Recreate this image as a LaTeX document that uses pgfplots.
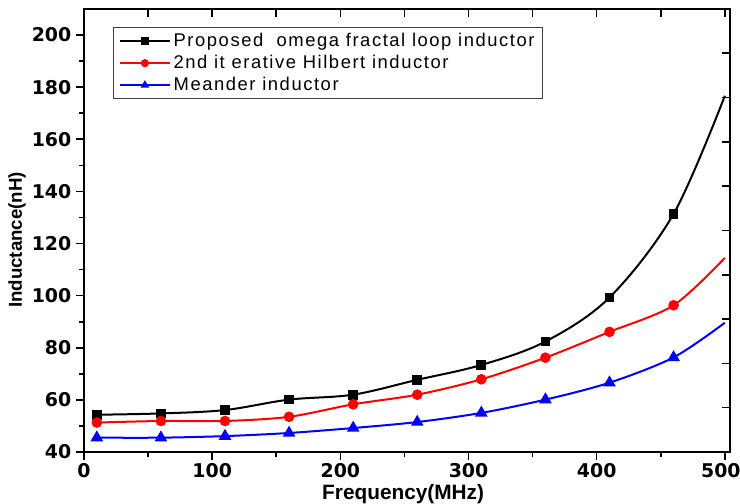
\documentclass[border=0pt]{standalone}
\usepackage{fontspec}
\setmainfont{Liberation Sans}
\newfontfamily\legfont[LetterSpace=8.5]{Liberation Sans}
\newfontfamily\tickfont{DejaVu Sans}
\usepackage{pgfplots}
\pgfplotsset{compat=1.18}
\begin{document}
\begin{tikzpicture}
\begin{axis}[
  width=484.5pt, height=332.25pt, scale only axis,
  xmin=0, xmax=504, ymin=40, ymax=210,
  axis line style={line width=1.5pt},
  xtick={0,100,...,500}, minor xtick={50,150,...,450},
  xticklabels={0,100,200,300,400,{\hspace*{-6pt}500}},
  ytick={40,60,...,200}, minor ytick={50,70,...,190},
  xtick pos=left, ytick pos=left,
  tick align=outside,
  major tick length=6pt, minor tick length=4pt,
  every tick/.style={black, line width=1.2pt},
  /pgf/number format/assume math mode=true,
  ticklabel style={font=\tickfont\fontsize{14.2}{17}\selectfont\bfseries},
  xticklabel style={yshift=1pt},
  xlabel={Frequency(MHz)},
  ylabel={Inductance(nH)},
  xlabel style={font=\fontsize{15.6}{18}\selectfont\bfseries, at={(axis description cs:0.494,-0.0955)}, anchor=center},
  ylabel style={font=\fontsize{14}{16}\selectfont\bfseries, at={(axis description cs:-0.1037,0.4786)}, anchor=center},
  legend style={at={(axis description cs:0.0449,0.9594)}, anchor=north west,
    draw=black!75, line width=0.8pt, font=\legfont\fontsize{13.8}{16.9}\selectfont,
    inner xsep=4pt, inner ysep=2.5pt, row sep=1pt},
  legend cell align=left,
  legend image code/.code={\draw[mark=none] (0cm,0cm) -- (1.32cm,0cm); \draw[mark size=2.3pt] plot coordinates {(0.66cm,0cm)};},
]
\coordinate (O) at (rel axis cs:0,0);
\addplot[black, line width=1.5pt, smooth, tension=0.55, mark=square*, mark size=2.9pt, mark indices={1,2,...,10}]
coordinates {(10,54.3) (60,54.8) (110,56.1) (160,60.1) (210,62.0) (260,67.7) (310,73.4) (360,82.4) (410,99.3) (460,131.4) (500,176.7)};
\addlegendentry{Proposed\ \ omega fractal loop inductor}
\addplot[red, line width=1.5pt, smooth, tension=0.5, mark=*, mark size=3.2pt, mark indices={1,2,...,10}]
coordinates {(10,51.3) (60,51.9) (110,51.9) (160,53.5) (210,58.3) (260,62.0) (310,67.9) (360,76.2) (410,86.1) (460,96.3) (500,114.5)};
\addlegendentry{2nd it erative Hilbert inductor}
\addplot[blue, line width=1.5pt, smooth, tension=0.5, mark=triangle*, mark size=4pt, mark indices={1,2,...,10}]
coordinates {(10,45.5) (60,45.5) (110,46.1) (160,47.3) (210,49.2) (260,51.5) (310,55.0) (360,60.1) (410,66.6) (460,76.3) (500,89.6)};
\addlegendentry{Meander inductor}
\end{axis}
\begin{axis}[
  width=484.5pt, height=332.25pt, scale only axis,
  xmin=0, xmax=504, ymin=40, ymax=210,
  axis line style={line width=1.5pt},
  xtick={50,100,...,500}, ytick={57,74,...,193},
  xticklabels={}, yticklabels={},
  xtick pos=right, ytick pos=right,
  tick align=inside,
  major tick length=6pt,
  every tick/.style={black, line width=1.2pt},
]
\end{axis}
\pgfresetboundingbox
\path[use as bounding box] ([xshift=-63pt,yshift=-39pt]O) rectangle ++(555pt,378pt);
\end{tikzpicture}
\end{document}
